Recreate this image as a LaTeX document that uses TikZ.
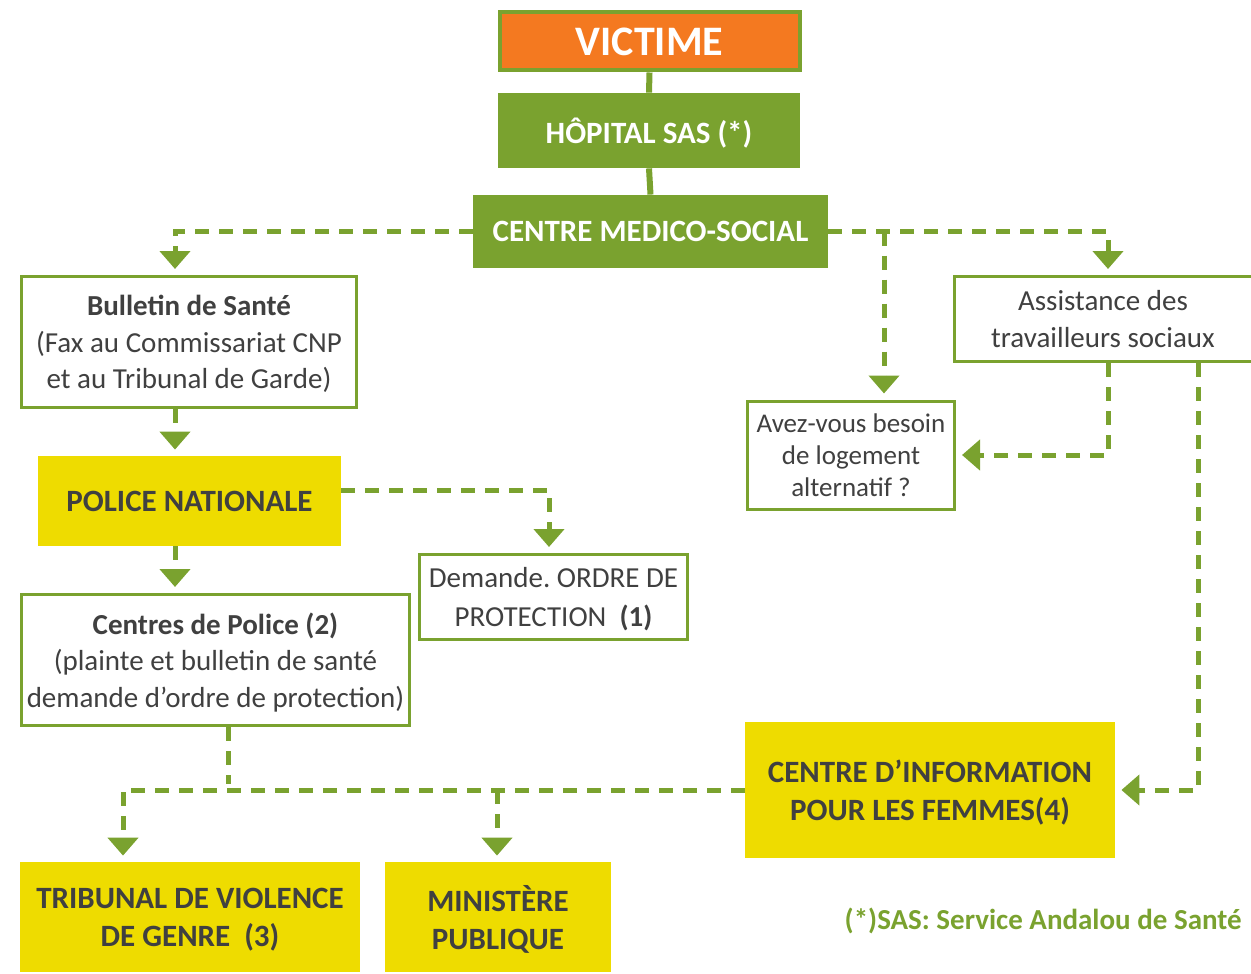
\documentclass[tikz,border=0pt]{standalone}
\usepackage{fontspec}
\setmainfont{Carlito}
\usetikzlibrary{arrows.meta,positioning,calc}
\definecolor{vert}{HTML}{7AA22F}
\definecolor{orange}{HTML}{F47920}
\definecolor{jaune}{HTML}{EEDC00}
\definecolor{gris}{HTML}{404040}
\frenchspacing

\tikzset{
    greenbox/.style={fill=vert, text=white, font=\bfseries\fontsize{15.5}{19}\selectfont, inner sep=0pt, align=center, text depth=-3pt},
    whitebox/.style={draw=vert, line width=1.5pt, fill=white, text=gris, font=\fontsize{14.5}{18.2}\selectfont, inner sep=0pt, align=center, text depth=-3pt},
    yellowbox/.style={fill=jaune, text=gris, font=\bfseries\fontsize{15.5}{19}\selectfont, inner sep=0pt, align=center, text depth=-3pt},
    dashline/.style={draw=vert, line width=2.5pt, dash pattern=on 7pt off 5pt, -{Triangle[width=15pt,length=9pt]}, shorten >=3pt},
    solidline/.style={draw=vert, line width=3pt}
}

\begin{document}
\begin{tikzpicture}[x=0.5pt,y=-0.5pt]
    \useasboundingbox (0,0) rectangle (1251,973);

    % Top of the chain
    \node[greenbox, fill=orange, draw=vert, line width=2pt, font=\bfseries\fontsize{21}{24}\selectfont, minimum width=150pt, minimum height=29pt] (victime) at (649.5,41.5) {VICTIME};
    \node[greenbox, minimum width=151pt, minimum height=37.5pt] (hopital) at (649,130.5) {HÔPITAL SAS (*)};
    \node[greenbox, minimum width=177.5pt, minimum height=36.5pt] (cms) at (650.5,231.5) {CENTRE MEDICO-SOCIAL};

    % Left branch
    \node[whitebox, minimum width=167.5pt, minimum height=65.5pt] (bulletin) at (189,342) {\textbf{Bulletin de Santé}\\(Fax au Commissariat CNP\\et au Tribunal de Garde)};
    \node[yellowbox, minimum width=151.5pt, minimum height=45pt] (police) at (189.5,501) {POLICE NATIONALE};
    \node[whitebox, minimum width=194pt, minimum height=65.5pt] (centres) at (215.5,660) {\textbf{Centres de Police (2)}\\(plainte et bulletin de santé\\demande d’ordre de protection)};
    \node[whitebox, font=\fontsize{14.5}{19.5}\selectfont, minimum width=134pt, minimum height=42.5pt] (demande) at (553.5,597) {Demande. ORDRE DE\\PROTECTION \ \textbf{(1)}};

    % Right branch
    \node[whitebox, minimum width=149pt, minimum height=42.5pt] (assist) at (1103,319) {Assistance des\\travailleurs sociaux};
    \node[whitebox, font=\fontsize{13.5}{16}\selectfont, minimum width=103.5pt, minimum height=54pt] (avez) at (851,455) {Avez-vous besoin\\de logement\\alternatif ?};
    \node[yellowbox, minimum width=185pt, minimum height=68pt] (cif) at (930,790) {CENTRE D’INFORMATION\\POUR LES FEMMES(4)};

    % Bottom row
    \node[yellowbox, minimum width=170pt, minimum height=55pt] (tribunal) at (190,917) {TRIBUNAL DE VIOLENCE\\DE GENRE \ (3)};
    \node[yellowbox, minimum width=113pt, minimum height=55pt] (ministere) at (498,917) {MINISTÈRE\\PUBLIQUE};

    \node[text=vert, font=\bfseries\fontsize{14.5}{17}\selectfont, anchor=east, inner sep=0pt] (note) at (1242,921) {(*)SAS: Service Andalou de Santé};

    % Columns of the dashed connectors
    \coordinate (lcol) at (175,0);
    \coordinate (pcol) at (549,0);
    \coordinate (jn) at (228,790);
    \coordinate (tcol) at (123,0);
    \coordinate (mcol) at (497,0);
    \coordinate (bcol) at (884,0);
    \coordinate (acol) at (1108,0);
    \coordinate (rcol) at (1198,0);

    % Solid links
    \draw[solidline] (victime.south) -- (hopital.north);
    \draw[solidline] (hopital.south) -- (cms.north);

    % Dashed links
    \draw[dashline] (cms.west) -| (bulletin.north -| lcol);
    \draw[dashline] (bulletin.south -| lcol) -- (police.north -| lcol);
    \draw[dashline] (police.south -| lcol) -- (centres.north -| lcol);
    \draw[dashline] ([yshift=5.5pt]police.east) -| (demande.north -| pcol);
    \draw[dashline, -] (centres.south -| jn) -- (jn);
    \draw[dashline] (cif.west) -- (cif.west -| tcol) -- (tribunal.north -| tcol);
    \draw[dashline] (cif.west -| mcol) -- (ministere.north -| mcol);
    \draw[dashline] (cms.east) -| (assist.north -| acol);
    \draw[dashline] (cms.east -| bcol) -- (avez.north -| bcol);
    \draw[dashline] (assist.south -| acol) |- (avez.east);
    \draw[dashline] (assist.south -| rcol) |- (cif.east);
\end{tikzpicture}
\end{document}
